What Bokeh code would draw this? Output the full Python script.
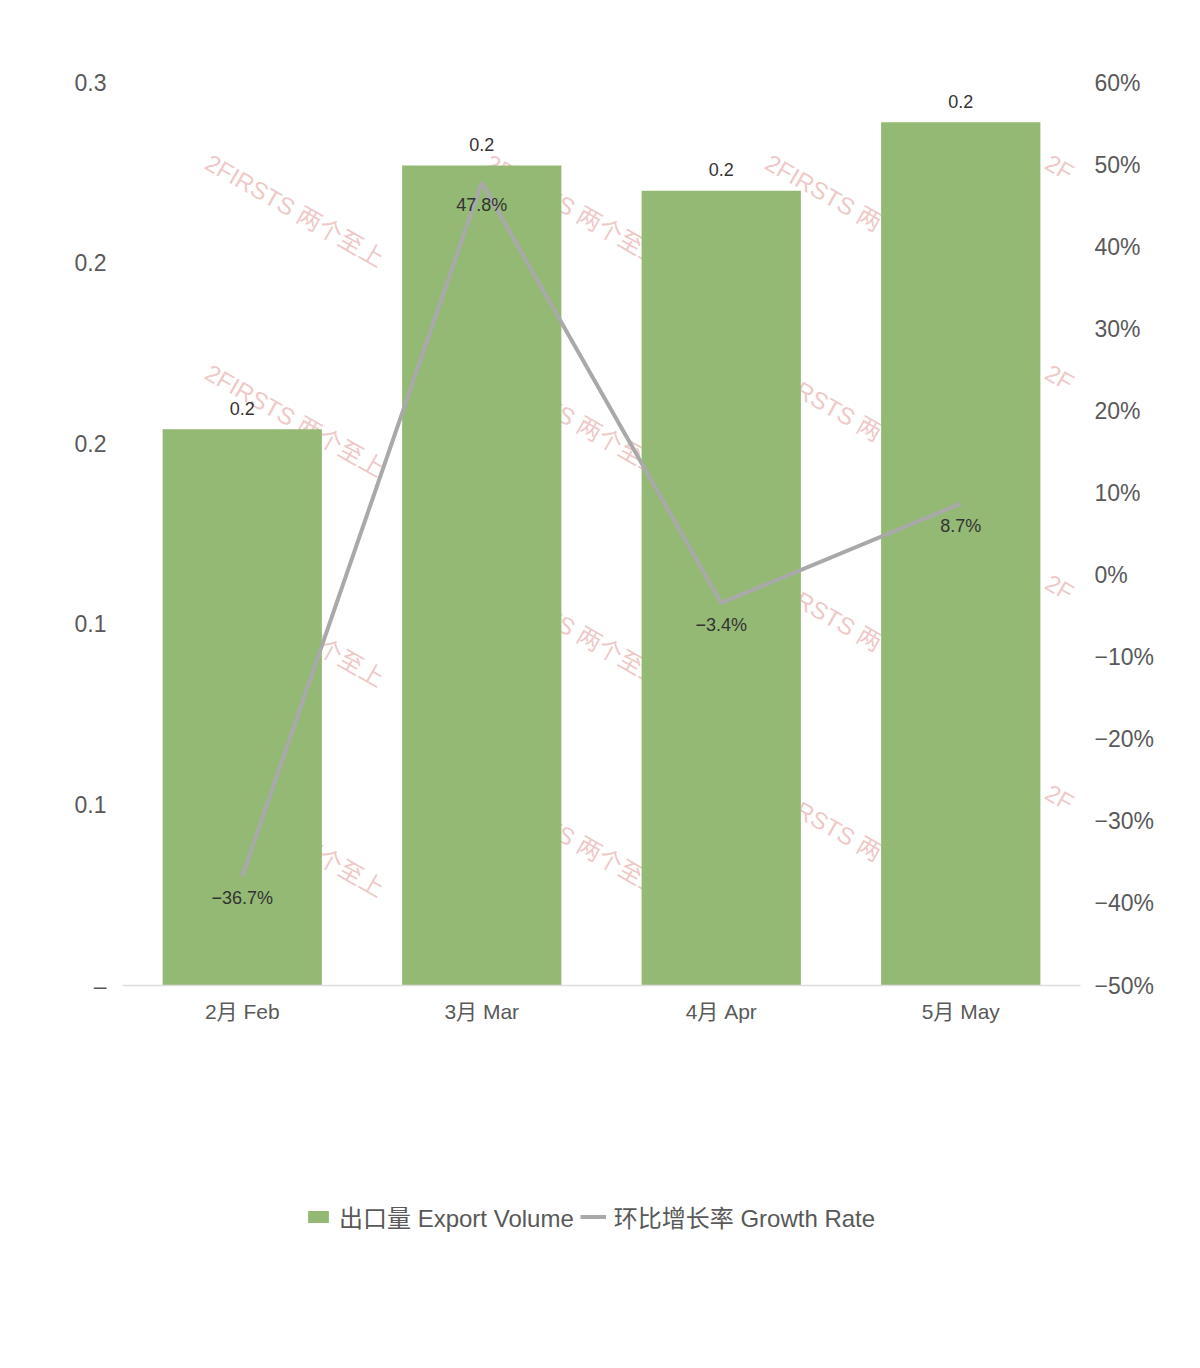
from bokeh.plotting import figure
from bokeh.models import (ColumnDataSource, Range1d, LinearAxis, FixedTicker,
                          Legend, LegendItem, FactorRange)
from bokeh.layouts import column
from bokeh.core.properties import value
from bokeh.embed import file_html
from bokeh.resources import INLINE

# ---------------- data ----------------
months = ["2月 Feb", "3月 Mar", "4月 Apr", "5月 May"]
volume = [0.154, 0.227, 0.220, 0.239]
growth = [-36.7, 47.8, -3.4, 8.7]

left_ticks = [0, 0.05, 0.1, 0.15, 0.2, 0.25]
left_tick_labels = ["–", "0.1", "0.1", "0.2", "0.2", "0.3"]
right_ticks = [-50, -40, -30, -20, -10, 0, 10, 20, 30, 40, 50, 60]
right_tick_labels = ["−50%", "−40%", "−30%", "−20%", "−10%", "0%",
                     "10%", "20%", "30%", "40%", "50%", "60%"]

series_names = ["出口量 Export Volume", "环比增长率 Growth Rate"]
watermark_text = "2FIRSTS 两个至上"
watermark_edge_text = "2F"

# ---------------- style ----------------
FONT = "'Liberation Sans', 'Noto Sans CJK SC', sans-serif"
BAR_COLOR = "#94b975"
LINE_COLOR = "#a9a9a9"
TICK_COLOR = "#595959"
LABEL_COLOR = "#333333"

W, H1, H2 = 1192, 1060, 290
p = figure(width=W, height=H1, x_range=FactorRange(*months),
           y_range=Range1d(0, left_ticks[-1]), output_backend="svg",
           toolbar_location=None, min_border_left=122, min_border_right=112,
           min_border_top=82, min_border_bottom=75)
p.extra_y_ranges = {"pct": Range1d(right_ticks[0], right_ticks[-1])}
p.outline_line_color = None
p.xgrid.visible = False
p.ygrid.visible = False
p.background_fill_color = "white"
p.border_fill_color = "white"

# ---------------- watermark (decorative, behind bars) ----------------
frame_l, frame_w, frame_b, frame_h = 122, 958, 985, 903
wm_px = [207, 487, 767, 1047]
wm_py = [160, 370, 580, 790]
wx, wy, wt = [], [], []
for py in wm_py:
    for i, px in enumerate(wm_px):
        wx.append((px - frame_l) / frame_w * len(months))
        wy.append((frame_b - py) / frame_h * left_ticks[-1])
        wt.append(watermark_edge_text if i == len(wm_px) - 1 else watermark_text)
p.text(x=wx, y=wy, text=wt, angle=-0.52,
       text_font=value(FONT), text_font_size="24px",
       text_color="#e6a8a8", text_alpha=0.65,
       text_baseline="middle", text_align="left")

# ---------------- bars ----------------
src = ColumnDataSource(dict(
    m=months, v=volume, g=growth,
    vl=[f"{v:.1f}" for v in volume],
    gl=[(f"{g:.1f}%").replace("-", "−") for g in growth],
))
bars = p.vbar(x="m", top="v", width=0.665, source=src,
              fill_color=BAR_COLOR, line_color=None)
p.text(x="m", y="v", text="vl", source=src, y_offset=-21,
       text_font=value(FONT), text_font_size="18px", text_color=LABEL_COLOR,
       text_align="center", text_baseline="middle")

# ---------------- line ----------------
line = p.line(x="m", y="g", source=src, y_range_name="pct",
              line_color=LINE_COLOR, line_width=4)
p.text(x="m", y="g", text="gl", source=src, y_range_name="pct", y_offset=22,
       text_font=value(FONT), text_font_size="18px", text_color=LABEL_COLOR,
       text_align="center", text_baseline="middle")

# ---------------- axes ----------------
xa = p.xaxis[0]
xa.axis_line_color = "#dddddd"
xa.axis_line_width = 1.5
xa.major_tick_line_color = None
xa.minor_tick_line_color = None
xa.major_label_text_font = FONT
xa.major_label_text_font_size = "21px"
xa.major_label_text_color = TICK_COLOR
xa.major_label_standoff = 8

ya = p.yaxis[0]
ya.ticker = FixedTicker(ticks=left_ticks)
ya.major_label_overrides = {t: l for t, l in zip(left_ticks, left_tick_labels)}
ya.axis_line_color = None
ya.major_tick_line_color = None
ya.minor_tick_line_color = None
ya.major_label_text_font = FONT
ya.major_label_text_font_size = "23px"
ya.major_label_text_color = TICK_COLOR
ya.major_label_standoff = 10

ra = LinearAxis(y_range_name="pct", ticker=FixedTicker(ticks=right_ticks))
ra.major_label_overrides = {t: l for t, l in zip(right_ticks, right_tick_labels)}
ra.axis_line_color = None
ra.major_tick_line_color = None
ra.minor_tick_line_color = None
ra.major_label_text_font = FONT
ra.major_label_text_font_size = "23px"
ra.major_label_text_color = TICK_COLOR
ra.major_label_standoff = 8
p.add_layout(ra, "right")

# ---------------- legend (separate strip below the chart) ----------------
# legend renderers share the data but sit outside this strip's visible range
p2 = figure(width=W, height=H2, x_axis_type=None, y_axis_type=None,
            x_range=FactorRange(*months), y_range=Range1d(1000, 1001),
            output_backend="svg", toolbar_location=None, min_border=0)
p2.outline_line_color = None
p2.xgrid.visible = False
p2.ygrid.visible = False
p2.border_fill_color = "white"
lb = p2.vbar(x="m", top="v", width=0.665, source=src,
             fill_color=BAR_COLOR, line_color=None)
ll = p2.line(x="m", y="g", source=src, line_color=LINE_COLOR, line_width=4)
legend = Legend(items=[LegendItem(label=series_names[0], renderers=[lb]),
                       LegendItem(label=series_names[1], renderers=[ll])],
                orientation="horizontal", location=(183, 116),
                border_line_color=None, background_fill_alpha=0,
                padding=0, margin=0, spacing=6, label_standoff=8,
                glyph_width=26, glyph_height=15,
                label_text_font=FONT, label_text_font_size="24px",
                label_text_color=TICK_COLOR)
p2.add_layout(legend, "center")

layout = column(p, p2, spacing=0)
open("out.html", "w").write(file_html(layout, INLINE))
